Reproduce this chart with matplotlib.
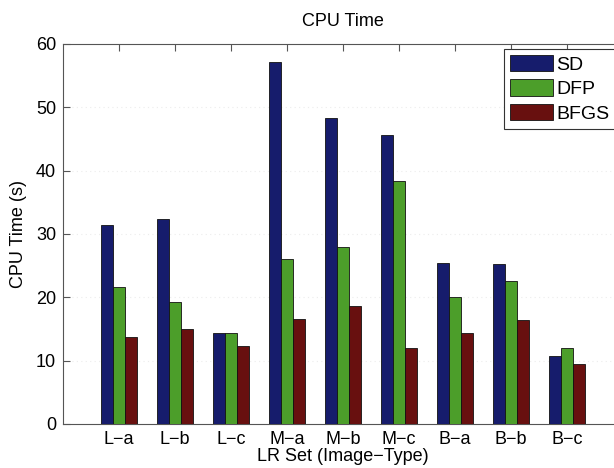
import matplotlib.pyplot as plt
import numpy as np

plt.rcParams['font.family'] = ['Liberation Sans', 'DejaVu Sans']

# data
categories = ['L\u2212a', 'L\u2212b', 'L\u2212c', 'M\u2212a', 'M\u2212b', 'M\u2212c',
              'B\u2212a', 'B\u2212b', 'B\u2212c']
sd = [31.4, 32.3, 14.3, 57.1, 48.3, 45.7, 25.5, 25.3, 10.7]
dfp = [21.6, 19.3, 14.3, 26.0, 28.0, 38.4, 20.1, 22.6, 12.0]
bfgs = [13.8, 15.0, 12.3, 16.6, 18.7, 12.0, 14.4, 16.5, 9.4]

series = [('SD', sd, '#161c6c'), ('DFP', dfp, '#4c9e2a'), ('BFGS', bfgs, '#68100f')]

fig = plt.figure(figsize=(6.14, 4.68), dpi=100)
# axes runs a little past the right edge, as in the scanned original
ax = fig.add_axes([63 / 614, 44 / 468, 560 / 614, 380 / 468])

x = np.arange(1, len(categories) + 1)
w = 0.22
for i, (name, vals, col) in enumerate(series):
    ax.bar(x + (i - 1) * w, vals, w, color=col, edgecolor='#111111',
           linewidth=0.6, label=name, zorder=3)

# faint bleed-through lines from the scan
for yv in [10, 20, 30, 40, 50]:
    ax.axhline(yv, color='#ececec', linestyle=(0, (1, 3)), linewidth=0.8, zorder=1)

ax.set_xlim(0, 10)
ax.set_ylim(0, 60)
ax.set_xticks(x)
ax.set_xticklabels(categories)
ax.set_yticks(np.arange(0, 61, 10))
ax.tick_params(direction='in', length=5, width=0.8, color='#555555',
               top=True, right=True, labelsize=13, pad=5)
for sp in ax.spines.values():
    sp.set_color('#555555')
    sp.set_linewidth(0.8)

ax.set_title('CPU Time', fontsize=13, pad=13)
ax.set_xlabel('LR Set (Image\u2212Type)', fontsize=13, labelpad=0)
ax.set_ylabel('CPU Time (s)', fontsize=13, labelpad=6)

leg = ax.legend(loc='upper left', bbox_to_anchor=(504 / 614, 1 - 49 / 468),
                bbox_transform=fig.transFigure, fontsize=14, frameon=True,
                fancybox=False, borderaxespad=0, handlelength=2.2,
                handleheight=0.9, labelspacing=0.3, handletextpad=0.2,
                borderpad=0.3)
leg.get_frame().set_edgecolor('#333333')
leg.get_frame().set_linewidth(0.8)
leg.get_frame().set_alpha(1)

fig.savefig('out.png', dpi=100)
